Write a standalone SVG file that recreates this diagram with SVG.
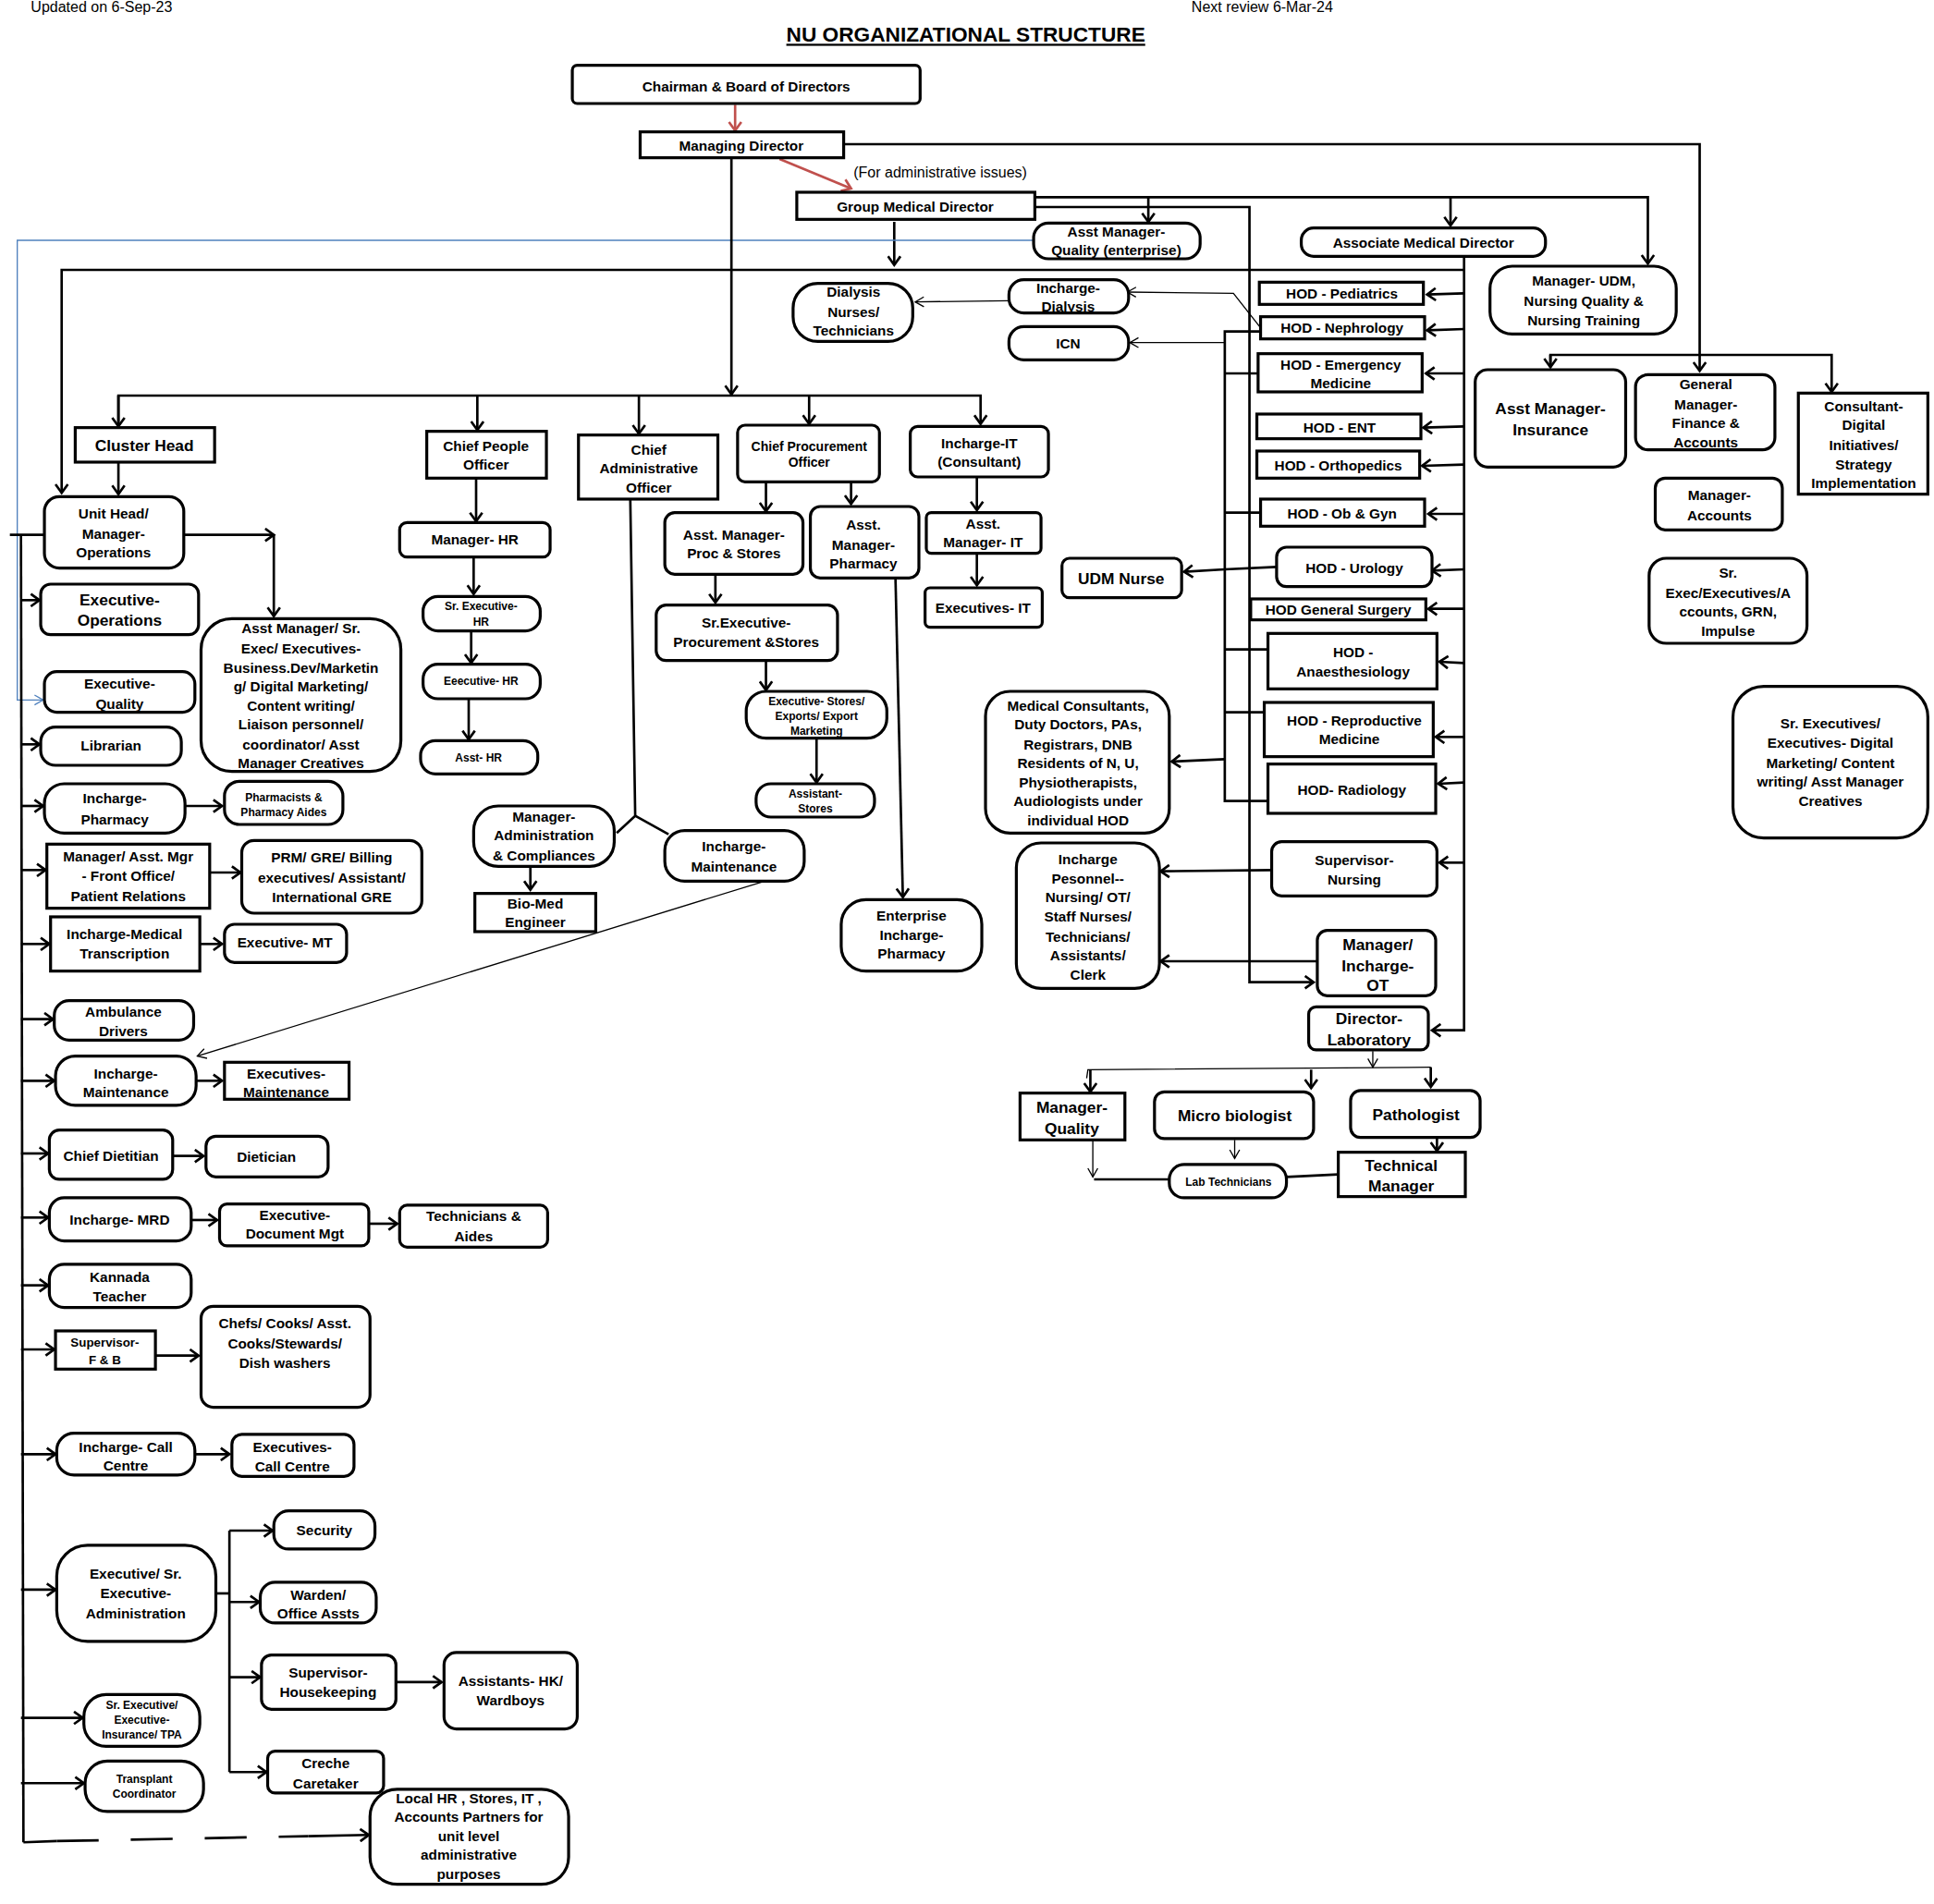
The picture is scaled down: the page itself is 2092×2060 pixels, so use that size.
<svg xmlns="http://www.w3.org/2000/svg" width="2092" height="2060" viewBox="0 0 2092 2060">
<style>
text{font-family:"Liberation Sans",Arial,sans-serif;font-weight:bold;font-size:11.5px;text-anchor:middle;fill:#000}
.s{font-size:9px}
.m{font-size:13px}
.n{font-weight:normal;font-size:12px;text-anchor:start}
rect{fill:#fff;stroke:#000;stroke-width:2.4}
.c line,.c polyline{stroke:#000;stroke-width:2;fill:none}
.c .t{stroke-width:1}
.c .red{stroke:#c0504d;stroke-width:2}
.c .blue{stroke:#4f81bd;stroke-width:1}
</style>
<defs>
<marker id="a" markerUnits="userSpaceOnUse" markerWidth="12" markerHeight="12" refX="9" refY="6" orient="auto"><path d="M2,1 L9,6 L2,11" fill="none" stroke="#000" stroke-width="2"/></marker>
<marker id="at" markerUnits="userSpaceOnUse" markerWidth="12" markerHeight="12" refX="9" refY="6" orient="auto"><path d="M2,2 L9,6 L2,10" fill="none" stroke="#000" stroke-width="1"/></marker>
<marker id="ar" markerUnits="userSpaceOnUse" markerWidth="12" markerHeight="12" refX="9" refY="6" orient="auto"><path d="M2,1 L9,6 L2,11" fill="none" stroke="#c0504d" stroke-width="2"/></marker>
<marker id="ab" markerUnits="userSpaceOnUse" markerWidth="12" markerHeight="12" refX="9" refY="6" orient="auto"><path d="M2,2 L9,6 L2,10" fill="none" stroke="#4f81bd" stroke-width="1"/></marker>
</defs>
<rect x="0" y="0" width="2092" height="2060" style="stroke:none"/>
<g transform="scale(1.3342,1.3333)">
<text class="n" x="25" y="10">Updated on 6-Sep-23</text>
<text class="n" x="966" y="10">Next review 6-Mar-24</text>
<text x="783" y="34" style="font-size:17px;text-decoration:underline">NU ORGANIZATIONAL STRUCTURE</text>
<text class="n" x="692" y="144">(For administrative issues)</text>

<g class="c" id="connectors">
<line class="red" x1="596" y1="85" x2="596" y2="106" marker-end="url(#ar)"/>
<line class="red" x1="632" y1="129" x2="690" y2="153" marker-end="url(#ar)"/>
<polyline points="684,117 1378,117 1378,301" marker-end="url(#a)"/>
<polyline points="1257,298 1257,288 1485,288 1485,318" marker-end="url(#a)"/>
<line x1="1257" y1="288" x2="1257" y2="298" marker-end="url(#a)"/>
<polyline points="839,160 1336,160 1336,214" marker-end="url(#a)"/>
<line x1="931" y1="160" x2="931" y2="180" marker-end="url(#a)"/>
<line x1="1176" y1="160" x2="1176" y2="183" marker-end="url(#a)"/>
<polyline points="839,168 1013,168 1013,797 1065,797" marker-end="url(#a)"/>
<line x1="725" y1="180" x2="725" y2="215" marker-end="url(#a)"/>
<polyline points="1187,208 1187,836 1161,836" marker-end="url(#a)"/>
<polyline points="1187,219 50,219 50,400" marker-end="url(#a)"/>
<line x1="1187" y1="238" x2="1157" y2="239" marker-end="url(#a)"/>
<line x1="1187" y1="267" x2="1157" y2="268" marker-end="url(#a)"/>
<line x1="1187" y1="303" x2="1156" y2="303" marker-end="url(#a)"/>
<line x1="1187" y1="346" x2="1154" y2="347" marker-end="url(#a)"/>
<line x1="1187" y1="377" x2="1153" y2="378" marker-end="url(#a)"/>
<line x1="1187" y1="417" x2="1158" y2="417" marker-end="url(#a)"/>
<line x1="1187" y1="462" x2="1161" y2="463" marker-end="url(#a)"/>
<line x1="1187" y1="494" x2="1158" y2="494" marker-end="url(#a)"/>
<line x1="1187" y1="538" x2="1167" y2="537" marker-end="url(#a)"/>
<line x1="1187" y1="598" x2="1164" y2="598" marker-end="url(#a)"/>
<line x1="1187" y1="635" x2="1166" y2="636" marker-end="url(#a)"/>
<line x1="1187" y1="700" x2="1167" y2="700" marker-end="url(#a)"/>
<polyline points="1022,269 993,269 993,650 1028,650"/>
<line x1="993" y1="303" x2="1020" y2="303"/>
<line x1="993" y1="416" x2="1022" y2="416"/>
<line x1="993" y1="462" x2="1035" y2="460"/>
<line x1="993" y1="527" x2="1028" y2="527"/>
<line x1="993" y1="578" x2="1025" y2="578"/>
<line class="t" x1="993" y1="278" x2="916" y2="278" marker-end="url(#at)"/>
<polyline class="t" points="1022,266 1000,238 914,237" marker-end="url(#at)"/>
<line class="t" x1="818" y1="244" x2="742" y2="245" marker-end="url(#at)"/>
<polyline class="blue" points="838,195 14,195 14,568 35,568" marker-end="url(#ab)"/>
<line x1="993" y1="462" x2="960" y2="464" marker-end="url(#a)"/>
<line x1="993" y1="616" x2="950" y2="618" marker-end="url(#a)"/>
<line x1="1031" y1="706" x2="941" y2="707" marker-end="url(#a)"/>
<line x1="1068" y1="780" x2="941" y2="780" marker-end="url(#a)"/>
<line class="t" x1="1113" y1="853" x2="1113" y2="866" marker-end="url(#at)"/>
<polyline class="t" points="881,875 882,868 1160,866"/>
<line x1="884" y1="868" x2="884" y2="886" marker-end="url(#a)"/>
<line x1="1063" y1="868" x2="1063" y2="883" marker-end="url(#a)"/>
<line x1="1160" y1="866" x2="1160" y2="882" marker-end="url(#a)"/>
<polyline class="t" points="886,925 886,955" marker-end="url(#at)"/>
<line x1="887" y1="957" x2="948" y2="957"/>
<line class="t" x1="1001" y1="925" x2="1001" y2="940" marker-end="url(#at)"/>
<line x1="1043" y1="955" x2="1085" y2="953"/>
<line x1="1165" y1="923" x2="1165" y2="934" marker-end="url(#a)"/>
<line x1="593" y1="128" x2="593" y2="320" marker-end="url(#a)"/>
<polyline points="96,346 96,321 795,321 795,344" marker-end="url(#a)"/>
<line x1="96" y1="321" x2="96" y2="346" marker-end="url(#a)"/>
<line x1="387" y1="321" x2="387" y2="349" marker-end="url(#a)"/>
<line x1="518" y1="321" x2="518" y2="352" marker-end="url(#a)"/>
<line x1="656" y1="321" x2="656" y2="344" marker-end="url(#a)"/>
<line x1="96" y1="375" x2="96" y2="401" marker-end="url(#a)"/>
<line x1="386" y1="388" x2="386" y2="423" marker-end="url(#a)"/>
<line x1="384" y1="452" x2="384" y2="482" marker-end="url(#a)"/>
<line x1="382" y1="512" x2="382" y2="538" marker-end="url(#a)"/>
<line x1="380" y1="567" x2="380" y2="600" marker-end="url(#a)"/>
<polyline points="511,405 515,662 500,676"/>
<line x1="515" y1="662" x2="542" y2="677"/>
<line x1="430" y1="703" x2="430" y2="722" marker-end="url(#a)"/>
<line class="t" x1="620" y1="715" x2="160" y2="857" marker-end="url(#at)"/>
<line x1="621" y1="391" x2="621" y2="415" marker-end="url(#a)"/>
<line x1="690" y1="391" x2="690" y2="409" marker-end="url(#a)"/>
<line x1="580" y1="466" x2="580" y2="489" marker-end="url(#a)"/>
<line x1="621" y1="536" x2="621" y2="560" marker-end="url(#a)"/>
<line x1="662" y1="599" x2="662" y2="635" marker-end="url(#a)"/>
<line x1="726" y1="469" x2="732" y2="728" marker-end="url(#a)"/>
<line x1="792" y1="387" x2="792" y2="414" marker-end="url(#a)"/>
<line x1="792" y1="449" x2="792" y2="475" marker-end="url(#a)"/>
<polyline points="149,434 222,434" marker-end="url(#a)"/>
<line x1="222" y1="434" x2="222" y2="500" marker-end="url(#a)"/>
<polyline points="36,434 8,434"/>
<line x1="17" y1="434" x2="19" y2="1495"/>
<line x1="17" y1="487" x2="32" y2="487" marker-end="url(#a)"/>
<line x1="17" y1="604" x2="32" y2="604" marker-end="url(#a)"/>
<line x1="17" y1="654" x2="35" y2="654" marker-end="url(#a)"/>
<line x1="17" y1="706" x2="37" y2="706" marker-end="url(#a)"/>
<line x1="17" y1="766" x2="40" y2="766" marker-end="url(#a)"/>
<line x1="17" y1="827" x2="43" y2="827" marker-end="url(#a)"/>
<line x1="17" y1="877" x2="44" y2="877" marker-end="url(#a)"/>
<line x1="17" y1="936" x2="39" y2="936" marker-end="url(#a)"/>
<line x1="17" y1="988" x2="39" y2="988" marker-end="url(#a)"/>
<line x1="17" y1="1043" x2="39" y2="1043" marker-end="url(#a)"/>
<line x1="17" y1="1095" x2="44" y2="1095" marker-end="url(#a)"/>
<line x1="17" y1="1180" x2="45" y2="1180" marker-end="url(#a)"/>
<line x1="17" y1="1290" x2="45" y2="1290" marker-end="url(#a)"/>
<line x1="17" y1="1394" x2="67" y2="1394" marker-end="url(#a)"/>
<line x1="17" y1="1447" x2="68" y2="1447" marker-end="url(#a)"/>
<line x1="19" y1="1495" x2="46" y2="1494"/>
<line x1="46" y1="1494" x2="250" y2="1490" style="stroke-dasharray:34,26"/>
<line x1="250" y1="1490" x2="299" y2="1489" marker-end="url(#a)"/>
<polyline points="175,1293 186,1293"/>
<line x1="186" y1="1242" x2="186" y2="1438"/>
<line x1="186" y1="1242" x2="221" y2="1242" marker-end="url(#a)"/>
<line x1="186" y1="1300" x2="210" y2="1300" marker-end="url(#a)"/>
<line x1="186" y1="1361" x2="211" y2="1361" marker-end="url(#a)"/>
<line x1="186" y1="1438" x2="216" y2="1438" marker-end="url(#a)"/>
<line x1="321" y1="1365" x2="358" y2="1365" marker-end="url(#a)"/>
<line x1="150" y1="654" x2="180" y2="654" marker-end="url(#a)"/>
<line x1="170" y1="708" x2="195" y2="708" marker-end="url(#a)"/>
<line x1="162" y1="766" x2="180" y2="766" marker-end="url(#a)"/>
<line x1="159" y1="877" x2="180" y2="877" marker-end="url(#a)"/>
<line x1="140" y1="938" x2="165" y2="938" marker-end="url(#a)"/>
<line x1="155" y1="990" x2="176" y2="990" marker-end="url(#a)"/>
<line x1="299" y1="993" x2="322" y2="993" marker-end="url(#a)"/>
<line x1="126" y1="1100" x2="161" y2="1100" marker-end="url(#a)"/>
<line x1="158" y1="1180" x2="186" y2="1180" marker-end="url(#a)"/>
</g>

<g id="chairman"><rect x="464" y="53" width="282" height="31" rx="4"/><text x="605" y="74">Chairman &amp; Board of Directors</text></g>
<g id="md"><rect x="519" y="107" width="165" height="21"/><text x="601" y="122">Managing Director</text></g>
<g id="gmd"><rect x="646" y="156" width="193" height="22"/><text x="742" y="172">Group Medical Director</text></g>
<g id="amq"><rect x="838" y="181" width="135" height="29" rx="12"/><text x="905" y="192">Asst Manager-</text><text x="905" y="207">Quality (enterprise)</text></g>
<g id="amd"><rect x="1055" y="185" width="198" height="23" rx="10"/><text x="1154" y="201">Associate Medical Director</text></g>
<g id="udm"><rect x="1208" y="216" width="151" height="55" rx="18"/><text x="1284" y="232">Manager- UDM,</text><text x="1284" y="248">Nursing Quality &amp;</text><text x="1284" y="264">Nursing Training</text></g>
<g id="dialnurse"><rect x="643" y="230" width="97" height="47" rx="20"/><text x="692" y="241">Dialysis</text><text x="692" y="257">Nurses/</text><text x="692" y="272">Technicians</text></g>
<g id="incdial"><rect x="818" y="227" width="97" height="27" rx="12"/><text x="866" y="238">Incharge-</text><text x="866" y="253">Dialysis</text></g>
<g id="icn"><rect x="818" y="265" width="97" height="27" rx="12"/><text x="866" y="283">ICN</text></g>
<g id="hod1"><rect x="1021" y="229" width="133" height="18"/><text x="1088" y="242">HOD -  Pediatrics</text></g>
<g id="hod2"><rect x="1022" y="257" width="133" height="18"/><text x="1088" y="270">HOD - Nephrology</text></g>
<g id="hod3"><rect x="1020" y="287" width="133" height="31"/><text x="1087" y="300">HOD - Emergency</text><text x="1087" y="315">Medicine</text></g>
<g id="hod4"><rect x="1019" y="336" width="133" height="20"/><text x="1086" y="351">HOD - ENT</text></g>
<g id="hod5"><rect x="1019" y="366" width="132" height="22"/><text x="1085" y="382">HOD - Orthopedics</text></g>
<g id="hod6"><rect x="1022" y="405" width="133" height="22"/><text x="1088" y="421">HOD - Ob &amp; Gyn</text></g>
<g id="hod7"><rect x="1035" y="444" width="126" height="32" rx="8"/><text x="1098" y="465">HOD - Urology</text></g>
<g id="hod8"><rect x="1014" y="486" width="142" height="17"/><text x="1085" y="499">HOD General Surgery</text></g>
<g id="hod9"><rect x="1028" y="514" width="137" height="45"/><text x="1097" y="533">HOD -</text><text x="1097" y="549">Anaesthesiology</text></g>
<g id="hod10"><rect x="1025" y="570" width="137" height="44"/><text x="1098" y="589">HOD - Reproductive</text><text x="1094" y="604">Medicine</text></g>
<g id="hod11"><rect x="1028" y="620" width="136" height="40"/><text x="1096" y="645">HOD- Radiology</text></g>
<g id="supnurs"><rect x="1031" y="683" width="134" height="44" rx="8"/><text x="1098" y="702">Supervisor-</text><text x="1098" y="718">Nursing</text></g>
<g id="ot"><rect x="1068" y="755" width="96" height="53" rx="8"/><text x="1117" y="771" class="m">Manager/</text><text x="1117" y="788" class="m">Incharge-</text><text x="1117" y="804" class="m">OT</text></g>
<g id="lab"><rect x="1061" y="817" width="97" height="35" rx="6"/><text x="1110" y="831" class="m">Director-</text><text x="1110" y="848" class="m">Laboratory</text></g>
<g id="mq"><rect x="827" y="887" width="85" height="38"/><text x="869" y="903" class="m">Manager-</text><text x="869" y="920" class="m">Quality</text></g>
<g id="micro"><rect x="936" y="886" width="129" height="38" rx="8"/><text x="1001" y="910" class="m">Micro biologist</text></g>
<g id="path"><rect x="1095" y="885" width="105" height="38" rx="8"/><text x="1148" y="909" class="m">Pathologist</text></g>
<g id="labtech"><rect x="948" y="945" width="95" height="27" rx="12"/><text x="996" y="962" class="s">Lab Technicians</text></g>
<g id="techmgr"><rect x="1085" y="935" width="103" height="36"/><text x="1136" y="950" class="m">Technical</text><text x="1136" y="967" class="m">Manager</text></g>
<g id="udmnurse"><rect x="861" y="453" width="97" height="32" rx="6"/><text x="909" y="474" class="m">UDM Nurse</text></g>
<g id="medcons"><rect x="799" y="561" width="149" height="115" rx="20"/><text x="874" y="577">Medical Consultants,</text><text x="874" y="592">Duty Doctors,  PAs,</text><text x="874" y="608">Registrars, DNB</text><text x="874" y="623">Residents of  N, U,</text><text x="874" y="639">Physiotherapists,</text><text x="874" y="654">Audiologists under</text><text x="874" y="670">individual HOD</text></g>
<g id="incpers"><rect x="824" y="684" width="116" height="118" rx="20"/><text x="882" y="701">Incharge</text><text x="882" y="717">Pesonnel--</text><text x="882" y="732">Nursing/ OT/</text><text x="882" y="748">Staff Nurses/</text><text x="882" y="764">Technicians/</text><text x="882" y="779">Assistants/</text><text x="882" y="795">Clerk</text></g>
<g id="ins"><rect x="1196" y="300" width="122" height="79" rx="10"/><text x="1257" y="336" class="m">Asst Manager-</text><text x="1257" y="353" class="m">Insurance</text></g>
<g id="gmfa"><rect x="1326" y="304" width="113" height="61" rx="10"/><text x="1383" y="316">General</text><text x="1383" y="332">Manager-</text><text x="1383" y="347">Finance &amp;</text><text x="1383" y="363">Accounts</text></g>
<g id="cdi"><rect x="1458" y="319" width="105" height="82"/><text x="1511" y="334">Consultant-</text><text x="1511" y="349">Digital</text><text x="1511" y="365">Initiatives/</text><text x="1511" y="381">Strategy</text><text x="1511" y="396">Implementation</text></g>
<g id="macc"><rect x="1342" y="388" width="103" height="42" rx="8"/><text x="1394" y="406">Manager-</text><text x="1394" y="422">Accounts</text></g>
<g id="srexacc"><rect x="1337" y="453" width="128" height="69" rx="14"/><text x="1401" y="469">Sr.</text><text x="1401" y="485">Exec/Executives/A</text><text x="1401" y="500">ccounts, GRN,</text><text x="1401" y="516">Impulse</text></g>
<g id="srdig"><rect x="1405" y="557" width="158" height="123" rx="25"/><text x="1484" y="591">Sr. Executives/</text><text x="1484" y="607">Executives- Digital</text><text x="1484" y="623">Marketing/ Content</text><text x="1484" y="638">writing/  Asst Manager</text><text x="1484" y="654">Creatives</text></g>
<g id="cluster"><rect x="61" y="347" width="113" height="28"/><text x="117" y="366" class="m">Cluster Head</text></g>
<g id="cpo"><rect x="346" y="350" width="97" height="38"/><text x="394" y="366">Chief People</text><text x="394" y="381">Officer</text></g>
<g id="cao"><rect x="469" y="353" width="113" height="52"/><text x="526" y="369">Chief</text><text x="526" y="384">Administrative</text><text x="526" y="400">Officer</text></g>
<g id="cproc"><rect x="598" y="345" width="115" height="46" rx="6"/><text x="656" y="366" style="font-size:10.5px">Chief Procurement</text><text x="656" y="379" style="font-size:10.5px">Officer</text></g>
<g id="incit"><rect x="738" y="346" width="112" height="41" rx="6"/><text x="794" y="364">Incharge-IT</text><text x="794" y="379">(Consultant)</text></g>
<g id="mhr"><rect x="324" y="424" width="122" height="28" rx="6"/><text x="385" y="442">Manager- HR</text></g>
<g id="srhr"><rect x="343" y="484" width="95" height="28" rx="12"/><text x="390" y="495" class="s">Sr. Executive-</text><text x="390" y="508" class="s">HR</text></g>
<g id="exhr"><rect x="343" y="539" width="95" height="28" rx="12"/><text x="390" y="556" class="s">Eeecutive- HR</text></g>
<g id="ahr"><rect x="341" y="601" width="95" height="27" rx="12"/><text x="388" y="618" class="s">Asst- HR</text></g>
<g id="amps"><rect x="539" y="416" width="112" height="50" rx="8"/><text x="595" y="438">Asst. Manager-</text><text x="595" y="453">Proc &amp; Stores</text></g>
<g id="amph"><rect x="657" y="411" width="88" height="58" rx="8"/><text x="700" y="430">Asst.</text><text x="700" y="446">Manager-</text><text x="700" y="461">Pharmacy</text></g>
<g id="amit"><rect x="751" y="416" width="93" height="33" rx="4"/><text x="797" y="429">Asst.</text><text x="797" y="444">Manager- IT</text></g>
<g id="exit"><rect x="750" y="477" width="95" height="32" rx="4"/><text x="797" y="497">Executives- IT</text></g>
<g id="srproc"><rect x="532" y="491" width="147" height="45" rx="8"/><text x="605" y="509">Sr.Executive-</text><text x="605" y="525">Procurement &amp;Stores</text></g>
<g id="exst"><rect x="605" y="561" width="114" height="38" rx="16"/><text x="662" y="572" class="s">Executive- Stores/</text><text x="662" y="584" class="s">Exports/ Export</text><text x="662" y="596" class="s">Marketing</text></g>
<g id="asst"><rect x="613" y="636" width="96" height="27" rx="12"/><text x="661" y="647" class="s">Assistant-</text><text x="661" y="659" class="s">Stores</text></g>
<g id="madmin"><rect x="384" y="654" width="114" height="49" rx="20"/><text x="441" y="667">Manager-</text><text x="441" y="682">Administration</text><text x="441" y="698">&amp; Compliances</text></g>
<g id="incmaint"><rect x="539" y="674" width="113" height="41" rx="16"/><text x="595" y="691">Incharge-</text><text x="595" y="707">Maintenance</text></g>
<g id="biomed"><rect x="385" y="725" width="98" height="31"/><text x="434" y="737">Bio-Med</text><text x="434" y="752">Engineer</text></g>
<g id="entph"><rect x="682" y="730" width="114" height="58" rx="20"/><text x="739" y="747">Enterprise</text><text x="739" y="763">Incharge-</text><text x="739" y="778">Pharmacy</text></g>
<g id="unit"><rect x="36" y="403" width="113" height="58" rx="12"/><text x="92" y="421">Unit Head/</text><text x="92" y="437">Manager-</text><text x="92" y="452">Operations</text></g>
<g id="exop"><rect x="33" y="474" width="128" height="41" rx="8"/><text x="97" y="491" class="m">Executive-</text><text x="97" y="508" class="m">Operations</text></g>
<g id="exq"><rect x="36" y="545" width="122" height="33" rx="10"/><text x="97" y="559">Executive-</text><text x="97" y="575">Quality</text></g>
<g id="lib"><rect x="33" y="590" width="114" height="31" rx="12"/><text x="90" y="609">Librarian</text></g>
<g id="ambig"><rect x="163" y="502" width="162" height="124" rx="25"/><text x="244" y="514">Asst Manager/ Sr.</text><text x="244" y="530">Exec/ Executives-</text><text x="244" y="546">Business.Dev/Marketin</text><text x="244" y="561">g/ Digital Marketing/</text><text x="244" y="577">Content writing/</text><text x="244" y="592">Liaison personnel/</text><text x="244" y="608">coordinator/ Asst</text><text x="244" y="623">Manager Creatives</text></g>
<g id="incph"><rect x="36" y="636" width="114" height="40" rx="16"/><text x="93" y="652">Incharge-</text><text x="93" y="669">Pharmacy</text></g>
<g id="pharm"><rect x="182" y="634" width="96" height="35" rx="12"/><text x="230" y="650" class="s">Pharmacists &amp;</text><text x="230" y="662" class="s">Pharmacy Aides</text></g>
<g id="fo"><rect x="38" y="685" width="132" height="52"/><text x="104" y="699">Manager/ Asst. Mgr</text><text x="104" y="715">- Front Office/</text><text x="104" y="731">Patient Relations</text></g>
<g id="prm"><rect x="196" y="682" width="146" height="59" rx="10"/><text x="269" y="700">PRM/ GRE/ Billing</text><text x="269" y="716">executives/ Assistant/</text><text x="269" y="732">International GRE</text></g>
<g id="mt"><rect x="41" y="744" width="121" height="44"/><text x="101" y="762">Incharge-Medical</text><text x="101" y="778">Transcription</text></g>
<g id="exmt"><rect x="182" y="750" width="99" height="31" rx="8"/><text x="231" y="769">Executive- MT</text></g>
<g id="amb"><rect x="44" y="812" width="113" height="32" rx="12"/><text x="100" y="825">Ambulance</text><text x="100" y="841">Drivers</text></g>
<g id="incmaint2"><rect x="45" y="857" width="114" height="40" rx="16"/><text x="102" y="875">Incharge-</text><text x="102" y="890">Maintenance</text></g>
<g id="exmaint"><rect x="182" y="862" width="101" height="30"/><text x="232" y="875">Executives-</text><text x="232" y="890">Maintenance</text></g>
<g id="diet"><rect x="40" y="917" width="100" height="40" rx="8"/><text x="90" y="942">Chief Dietitian</text></g>
<g id="dietn"><rect x="167" y="922" width="99" height="33" rx="8"/><text x="216" y="943">Dietician</text></g>
<g id="mrd"><rect x="40" y="972" width="115" height="35" rx="12"/><text x="97" y="994">Incharge- MRD</text></g>
<g id="exdoc"><rect x="178" y="977" width="121" height="34" rx="6"/><text x="239" y="990">Executive-</text><text x="239" y="1005">Document Mgt</text></g>
<g id="techaides"><rect x="324" y="978" width="120" height="34" rx="6"/><text x="384" y="991">Technicians &amp;</text><text x="384" y="1007">Aides</text></g>
<g id="kannada"><rect x="40" y="1026" width="115" height="35" rx="12"/><text x="97" y="1040">Kannada</text><text x="97" y="1056">Teacher</text></g>
<g id="fb"><rect x="45" y="1080" width="81" height="31"/><text x="85" y="1093" class="s" style="font-size:10px">Supervisor-</text><text x="85" y="1107" class="s" style="font-size:10px">F &amp; B</text></g>
<g id="chefs"><rect x="163" y="1060" width="137" height="82" rx="10"/><text x="231" y="1078">Chefs/ Cooks/ Asst.</text><text x="231" y="1094">Cooks/Stewards/</text><text x="231" y="1110">Dish washers</text></g>
<g id="call"><rect x="46" y="1163" width="112" height="34" rx="14"/><text x="102" y="1178">Incharge- Call</text><text x="102" y="1193">Centre</text></g>
<g id="excall"><rect x="188" y="1164" width="99" height="34" rx="8"/><text x="237" y="1178">Executives-</text><text x="237" y="1194">Call Centre</text></g>
<g id="exadmin"><rect x="46" y="1254" width="129" height="78" rx="25"/><text x="110" y="1281">Executive/ Sr.</text><text x="110" y="1297">Executive-</text><text x="110" y="1313">Administration</text></g>
<g id="sec"><rect x="222" y="1226" width="82" height="31" rx="12"/><text x="263" y="1246">Security</text></g>
<g id="warden"><rect x="211" y="1284" width="94" height="33" rx="12"/><text x="258" y="1298">Warden/</text><text x="258" y="1313">Office Assts</text></g>
<g id="suphk"><rect x="212" y="1343" width="109" height="44" rx="8"/><text x="266" y="1361">Supervisor-</text><text x="266" y="1377">Housekeeping</text></g>
<g id="asshk"><rect x="360" y="1341" width="108" height="62" rx="10"/><text x="414" y="1368">Assistants- HK/</text><text x="414" y="1384">Wardboys</text></g>
<g id="creche"><rect x="217" y="1421" width="94" height="34" rx="6"/><text x="264" y="1435">Creche</text><text x="264" y="1451">Caretaker</text></g>
<g id="tpa"><rect x="68" y="1375" width="94" height="42" rx="18"/><text x="115" y="1387" class="s">Sr. Executive/</text><text x="115" y="1399" class="s">Executive-</text><text x="115" y="1411" class="s">Insurance/ TPA</text></g>
<g id="transplant"><rect x="69" y="1429" width="96" height="41" rx="18"/><text x="117" y="1447" class="s">Transplant</text><text x="117" y="1459" class="s">Coordinator</text></g>
<g id="localhr"><rect x="300" y="1452" width="161" height="77" rx="22"/><text x="380" y="1463">Local HR , Stores, IT ,</text><text x="380" y="1478">Accounts Partners for</text><text x="380" y="1494">unit level</text><text x="380" y="1509">administrative</text><text x="380" y="1525">purposes</text></g>
</g>
</svg>
